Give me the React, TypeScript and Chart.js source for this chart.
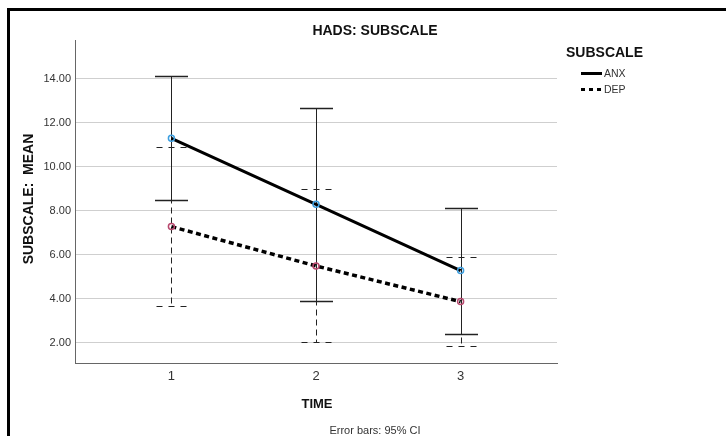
import React, { useEffect, useRef } from "react";
import { Chart, registerables } from "chart.js";

Chart.register(...registerables);

const times = [1, 2, 3];
const xTickLabels = ["1", "2", "3"];
const yTicks = [2, 4, 6, 8, 10, 12, 14];

const anxMean = [11.3, 8.3, 5.29];
const anxLow = [8.5, 3.92, 2.41];
const anxHigh = [14.14, 12.67, 8.15];

const depMean = [7.29, 5.5, 3.88];
const depLow = [3.68, 2.06, 1.86];
const depHigh = [10.9, 8.99, 5.92];

const seriesNames = ["ANX", "DEP"];
const chartTitle = "HADS: SUBSCALE";
const yTitle = "SUBSCALE:  MEAN";
const xTitle = "TIME";
const legendTitle = "SUBSCALE";
const footnote = "Error bars: 95% CI";

const FONT = '"Liberation Sans", Arial, Helvetica, sans-serif';

export default function App() {
  const ref = useRef<HTMLCanvasElement>(null);

  useEffect(() => {
    const canvas = ref.current;
    if (!canvas) return;

    const errorBars = {
      id: "errorBars",
      beforeDatasetsDraw(chart: any) {
        const { ctx } = chart;
        const x = chart.scales.x;
        const y = chart.scales.y;
        ctx.save();
        ctx.lineCap = "butt";
        // ANX: solid
        times.forEach((t, i) => {
          const px = Math.round(x.getPixelForValue(t)) + 0.5;
          const hi = Math.round(y.getPixelForValue(anxHigh[i])) + 0.5;
          const lo = Math.round(y.getPixelForValue(anxLow[i])) + 0.5;
          ctx.setLineDash([]);
          ctx.strokeStyle = "#222";
          ctx.lineWidth = 1;
          ctx.beginPath();
          ctx.moveTo(px, hi);
          ctx.lineTo(px, lo);
          ctx.stroke();
          ctx.lineWidth = 1.4;
          ctx.beginPath();
          ctx.moveTo(px - 16.5, hi);
          ctx.lineTo(px + 16.5, hi);
          ctx.moveTo(px - 16.5, lo);
          ctx.lineTo(px + 16.5, lo);
          ctx.stroke();
        });
        // DEP: dashed
        times.forEach((t, i) => {
          const px = Math.round(x.getPixelForValue(t)) + 0.5;
          const hi = Math.round(y.getPixelForValue(depHigh[i])) + 0.5;
          const lo = Math.round(y.getPixelForValue(depLow[i])) + 0.5;
          ctx.strokeStyle = "#222";
          ctx.lineWidth = 1;
          ctx.setLineDash([6, 4]);
          ctx.beginPath();
          ctx.moveTo(px, hi);
          ctx.lineTo(px, lo);
          ctx.stroke();
          ctx.lineWidth = 1.2;
          ctx.setLineDash([6, 6]);
          ctx.beginPath();
          ctx.moveTo(px - 15, hi);
          ctx.lineTo(px + 15, hi);
          ctx.moveTo(px - 15, lo);
          ctx.lineTo(px + 15, lo);
          ctx.stroke();
        });
        ctx.restore();
      },
    };

    const decor = {
      id: "decor",
      afterDraw(chart: any) {
        const { ctx } = chart;
        ctx.save();
        // frame
        ctx.fillStyle = "#000";
        ctx.fillRect(7, 8, 726, 3);
        ctx.fillRect(7, 8, 3, 436);

        ctx.fillStyle = "#111";
        ctx.textBaseline = "middle";
        ctx.textAlign = "center";
        ctx.font = `bold 14px ${FONT}`;
        ctx.fillText(chartTitle, 375, 31);

        ctx.font = `bold 13px ${FONT}`;
        ctx.fillText(xTitle, 317, 404);

        ctx.font = `11px ${FONT}`;
        ctx.fillStyle = "#333";
        ctx.fillText(footnote, 375, 431);

        ctx.save();
        ctx.translate(29, 199);
        ctx.rotate(-Math.PI / 2);
        ctx.font = `bold 14px ${FONT}`;
        ctx.fillStyle = "#111";
        ctx.fillText(yTitle, 0, 0);
        ctx.restore();

        // legend
        ctx.textAlign = "left";
        ctx.font = `bold 14px ${FONT}`;
        ctx.fillStyle = "#111";
        ctx.fillText(legendTitle, 566, 53);

        ctx.strokeStyle = "#000";
        ctx.lineWidth = 3;
        ctx.setLineDash([]);
        ctx.beginPath();
        ctx.moveTo(581, 73.5);
        ctx.lineTo(602, 73.5);
        ctx.stroke();
        ctx.setLineDash([4, 4]);
        ctx.beginPath();
        ctx.moveTo(581, 89.5);
        ctx.lineTo(602, 89.5);
        ctx.stroke();
        ctx.setLineDash([]);

        ctx.font = `10.5px ${FONT}`;
        ctx.fillStyle = "#333";
        ctx.fillText(seriesNames[0], 604, 74);
        ctx.fillText(seriesNames[1], 604, 90);
        ctx.restore();
      },
    };

    const chart = new Chart(canvas, {
      type: "line",
      data: {
        datasets: [
          {
            label: seriesNames[0],
            data: times.map((t, i) => ({ x: t, y: anxMean[i] })),
            borderColor: "#000",
            borderWidth: 3,
            pointRadius: 3,
            pointBorderWidth: 1.5,
            pointBorderColor: "#3d9fe0",
            pointBackgroundColor: "rgba(255,255,255,0)",
            tension: 0,
          },
          {
            label: seriesNames[1],
            data: times.map((t, i) => ({ x: t, y: depMean[i] })),
            borderColor: "#000",
            borderWidth: 3.5,
            borderDash: [5, 3.5],
            pointRadius: 3,
            pointBorderWidth: 1.5,
            pointBorderColor: "#b8486e",
            pointBackgroundColor: "rgba(255,255,255,0)",
            tension: 0,
          },
        ],
      },
      options: {
        responsive: false,
        animation: false,
        events: [],
        layout: { padding: { left: 0, right: 169, top: 40, bottom: 0 } },
        plugins: {
          legend: { display: false },
          title: { display: false },
          tooltip: { enabled: false },
        },
        scales: {
          x: {
            type: "linear",
            min: 1 / 3,
            max: 11 / 3,
            afterBuildTicks: (scale: any) => {
              scale.ticks = times.map((v) => ({ value: v }));
            },
            afterFit: (scale: any) => {
              scale.height = 73;
            },
            ticks: {
              callback: (v: any) => xTickLabels[times.indexOf(Number(v))] ?? "",
              font: { family: FONT, size: 13 },
              color: "#333",
              padding: 6,
              maxRotation: 0,
            },
            grid: { display: false, drawTicks: false },
            border: { display: true, color: "#666", width: 1 },
          },
          y: {
            type: "linear",
            min: 1.09,
            max: 15.77,
            afterBuildTicks: (scale: any) => {
              scale.ticks = yTicks.map((v) => ({ value: v }));
            },
            afterFit: (scale: any) => {
              scale.width = 75;
            },
            ticks: {
              callback: (v: any) => Number(v).toFixed(2),
              font: { family: FONT, size: 11 },
              color: "#333",
              padding: 4,
            },
            grid: { display: true, color: "#cfcfcf", lineWidth: 1, drawTicks: false },
            border: { display: true, color: "#666", width: 1 },
          },
        },
      },
      plugins: [errorBars, decor],
    });

    return () => chart.destroy();
  }, []);

  return (
    <div style={{ position: "fixed", left: 0, top: 0, width: 726, height: 436, background: "#fff" }}>
      <canvas ref={ref} width={726} height={436} style={{ display: "block", width: 726, height: 436 }} />
    </div>
  );
}
